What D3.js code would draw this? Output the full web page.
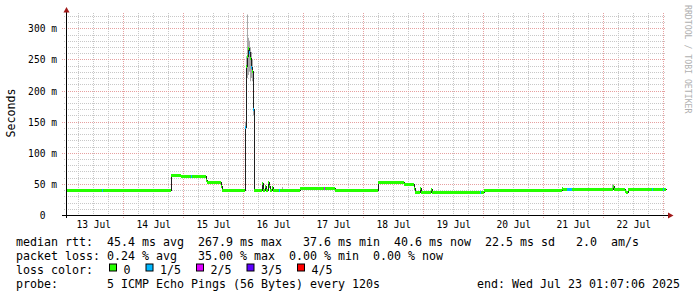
<!DOCTYPE html>
<html>
<head>
<meta charset="utf-8">
<script src="https://d3js.org/d3.v7.min.js"></script>
<style>
  body { margin: 0; background: #fff; }
  svg { display: block; }
  text { font-family: "DejaVu Sans Mono", monospace; fill: #000; }
</style>
</head>
<body>
<div id="pingGraph"></div>
<script>

    // median rtt (ms) as steps: each value holds from its time to the next time
    let times = [
        "07-13 01:07", "07-13 15:31", "07-13 15:55", "07-14 19:07", "07-14 23:07",
        "07-15 03:00", "07-15 03:24", "07-15 09:07", "07-15 09:31", "07-15 15:07",
        "07-15 15:31", "07-16 00:43", "07-16 01:07", "07-16 01:31", "07-16 01:55",
        "07-16 02:19", "07-16 02:43", "07-16 03:07", "07-16 03:31", "07-16 03:55",
        "07-16 04:19", "07-16 07:24", "07-16 07:55", "07-16 08:43", "07-16 09:07",
        "07-16 09:55", "07-16 10:19", "07-16 10:43", "07-16 11:31", "07-16 11:55",
        "07-16 14:19", "07-16 14:43", "07-16 22:43", "07-17 08:26", "07-17 08:50",
        "07-17 12:43", "07-18 06:00", "07-18 16:19", "07-18 20:26", "07-18 20:50",
        "07-18 22:43", "07-18 23:07", "07-19 03:00", "07-19 03:24", "07-19 22:43",
        "07-19 23:07", "07-20 00:20", "07-21 07:31", "07-21 07:55", "07-21 09:31",
        "07-21 11:31", "07-22 03:55", "07-22 04:19", "07-22 08:43", "07-22 09:07",
        "07-22 10:07", "07-22 19:31", "07-22 19:55", "07-22 23:55", "07-23 00:19"
    ];
    let median = [
        40, 40, 40, 63.5, 62.5,
        62.5, 62.5, 57, 53, 46,
        40, 142, 240, 255, 268,
        262, 252, 238, 232, 170,
        40, 52, 40, 47, 40,
        53, 46, 40, 45, 40,
        40, 40, 44, 44, 44,
        40, 52.5, 50, 44, 37.5,
        44, 37.5, 42, 37.5, 37.5,
        37.5, 40.5, 43, 41, 41,
        41, 47, 41, 38, 36.5,
        41, 41, 41, 41, 41
    ];
    // lost pings out of 5 for each step
    let loss = [
        0, 1, 0, 0, 0,
        1, 0, 0, 0, 0,
        0, 1, 0, 0, 0,
        1, 0, 1, 0, 1,
        0, 0, 0, 0, 0,
        0, 0, 0, 0, 0,
        1, 0, 0, 2, 0,
        0, 0, 0, 0, 0,
        0, 0, 0, 0, 1,
        0, 0, 0, 0, 1,
        0, 0, 0, 0, 0,
        0, 1, 0, 1, 0
    ];

    // smoke (spread of the single pings), only where it shows
    let smokeTimes = ["07-16 00:43", "07-16 01:07", "07-16 01:31", "07-16 01:55", "07-16 02:19",
                      "07-16 02:43", "07-16 03:07", "07-16 03:31", "07-16 03:55", "07-16 04:19",
                      "07-16 15:31", "07-16 15:55", "07-22 03:31", "07-22 03:55", "07-22 04:19"];
    let smokeLo = [110, 200, 220, 225, 230, 215, 220, 215, 160, 40, 40, 40, 41, 41, 41];
    let smokeHi = [150, 255, 322, 285, 280, 270, 262, 250, 180, 40, 45, 40, 49, 49, 41];

    let yTicks = [0, 50, 100, 150, 200, 250, 300];
    let yTickLabels = ["0  ", "50 m", "100 m", "150 m", "200 m", "250 m", "300 m"];
    let dayTicks = ["07-13 12:00", "07-14 12:00", "07-15 12:00", "07-16 12:00", "07-17 12:00",
                    "07-18 12:00", "07-19 12:00", "07-20 12:00", "07-21 12:00", "07-22 12:00"];
    let dayLabels = ["13 Jul", "14 Jul", "15 Jul", "16 Jul", "17 Jul",
                     "18 Jul", "19 Jul", "20 Jul", "21 Jul", "22 Jul"];

    let lossNames = ["0", "1/5", "2/5", "3/5", "4/5"];
    let lossColors = ["#26ff00", "#00b8ff", "#dd00ff", "#5e00ff", "#ff0000"];

    let legendLines = [
        "median rtt:  45.4 ms avg  267.9 ms max   37.6 ms min  40.6 ms now  22.5 ms sd   2.0  am/s",
        "packet loss: 0.24 % avg   35.00 % max  0.00 % min  0.00 % now",
        "loss color:",
        "probe:       5 ICMP Echo Pings (56 Bytes) every 120s"
    ];
    let endLabel = "end: Wed Jul 23 01:07:06 2025";

    let parseTime = s => d3.timeParse("%Y-%m-%d %H:%M")("2025-" + s);
    let start = new Date(2025, 6, 13, 1, 7, 6),
        end = new Date(2025, 6, 23, 1, 7, 6);

    let W = 697, H = 297;
    let plot = {left: 66, right: 666, top: 13, bottom: 215};

    let svg = d3.select("#pingGraph")
        .append("svg")
            .attr("width", W)
            .attr("height", H);

    svg.append("rect")
        .attr("width", W)
        .attr("height", H)
        .style("fill", "#fff");

    let xScale = d3.scaleTime().domain([start, end]).range([plot.left, plot.right]),
        yScale = d3.scaleLinear().domain([0, 324.6]).range([plot.bottom, plot.top]);

    // grid: minor every 6 hours / 10 ms, major at midnight / 50 ms
    let minorX = d3.timeHour.every(6).range(start, end).filter(d => d.getHours() != 0),
        majorX = d3.timeDay.range(start, end),
        minorY = d3.range(10, 325, 10).filter(v => v % 50 != 0),
        majorY = d3.range(50, 325, 50);

    let grid = svg.append("g").attr("shape-rendering", "crispEdges");

    grid.selectAll(".vminor").data(minorX).enter().append("line")
        .attr("x1", d => Math.round(xScale(d)) + 0.5).attr("x2", d => Math.round(xScale(d)) + 0.5)
        .attr("y1", plot.top).attr("y2", plot.bottom + 2)
        .style("stroke", "#c8c8c8").style("stroke-dasharray", "1,1");
    grid.selectAll(".hminor").data(minorY).enter().append("line")
        .attr("x1", plot.left - 2).attr("x2", plot.right)
        .attr("y1", d => Math.round(yScale(d)) + 0.5).attr("y2", d => Math.round(yScale(d)) + 0.5)
        .style("stroke", "#c8c8c8").style("stroke-dasharray", "1,1");
    grid.selectAll(".vmajor").data(majorX).enter().append("line")
        .attr("x1", d => Math.round(xScale(d)) + 0.5).attr("x2", d => Math.round(xScale(d)) + 0.5)
        .attr("y1", plot.top).attr("y2", plot.bottom + 3)
        .style("stroke", "#e6a0a0").style("stroke-dasharray", "1,1");
    grid.selectAll(".hmajor").data(majorY).enter().append("line")
        .attr("x1", plot.left - 4).attr("x2", plot.right)
        .attr("y1", d => Math.round(yScale(d)) + 0.5).attr("y2", d => Math.round(yScale(d)) + 0.5)
        .style("stroke", "#e6a0a0").style("stroke-dasharray", "1,1");

    // smoke
    let smoke = smokeTimes.map((t, i) => ({t: parseTime(t), lo: smokeLo[i], hi: smokeHi[i]}));
    svg.append("path")
        .datum(smoke)
        .attr("d", d3.area()
            .x(d => xScale(d.t))
            .y0(d => yScale(d.lo))
            .y1(d => yScale(d.hi))
            .curve(d3.curveStepAfter))
        .style("fill", "#a8a8a8");

    // median line
    let pts = times.map((t, i) => ({t: parseTime(t), v: median[i], loss: loss[i]}));
    let stepPts = pts.concat([{t: end, v: median[median.length - 1]}]);
    svg.append("path")
        .datum(stepPts)
        .attr("d", d3.line()
            .x(d => Math.round(xScale(d.t)) + 0.5)
            .y(d => Math.round(yScale(d.v)) + 0.5)
            .curve(d3.curveStepAfter))
        .attr("shape-rendering", "crispEdges")
        .style("fill", "none")
        .style("stroke", "#202020")
        .style("stroke-width", 1);

    // loss-coloured band around the median
    svg.selectAll(".band")
        .data(pts)
        .enter()
        .append("rect")
        .attr("x", d => Math.round(xScale(d.t)))
        .attr("width", (d, i) => Math.max(1, Math.round(xScale(i + 1 < pts.length ? pts[i + 1].t : end)) - Math.round(xScale(d.t))))
        .attr("y", d => Math.round(yScale(d.v)) - 1)
        .attr("height", 3)
        .style("fill", d => lossColors[d.loss]);

    // axes
    let yAxis = svg.append("g")
        .attr("transform", "translate(" + (plot.left - 6) + ",0)")
        .call(d3.axisLeft(yScale).tickValues(yTicks).tickSize(0)
            .tickFormat((d, i) => yTickLabels[i]));
    yAxis.select(".domain").remove();
    yAxis.selectAll("text")
        .attr("xml:space", "preserve")
        .style("font-family", "DejaVu Sans Mono")
        .style("font-size", "9.6px")
        .attr("dy", "0.36em");

    let xAxis = svg.append("g")
        .attr("transform", "translate(0," + (plot.bottom + 3) + ")")
        .call(d3.axisBottom(xScale).tickValues(dayTicks.map(parseTime)).tickSize(0)
            .tickFormat((d, i) => dayLabels[i]));
    xAxis.select(".domain").remove();
    xAxis.selectAll("text")
        .style("font-family", "DejaVu Sans Mono")
        .style("font-size", "9.6px");

    let axisCol = "#000", arrowCol = "#a01818";
    svg.append("line")
        .attr("x1", plot.left + 0.5).attr("x2", plot.left + 0.5)
        .attr("y1", plot.bottom + 3).attr("y2", plot.top - 2)
        .style("stroke", axisCol).attr("shape-rendering", "crispEdges");
    svg.append("line")
        .attr("x1", plot.left - 4).attr("x2", plot.right + 3)
        .attr("y1", plot.bottom + 0.5).attr("y2", plot.bottom + 0.5)
        .style("stroke", axisCol).attr("shape-rendering", "crispEdges");
    svg.append("path")
        .attr("d", "M" + (plot.left - 2.5) + "," + (plot.top - 0.5) + "L" + (plot.left + 3.5) + "," + (plot.top - 0.5) +
                   "L" + (plot.left + 0.5) + "," + (plot.top - 6) + "Z")
        .style("fill", arrowCol);
    svg.append("path")
        .attr("d", "M" + (plot.right + 2) + "," + (plot.bottom - 2.5) + "L" + (plot.right + 2) + "," + (plot.bottom + 3.5) +
                   "L" + (plot.right + 7.5) + "," + (plot.bottom + 0.5) + "Z")
        .style("fill", arrowCol);

    // y title
    svg.append("text")
        .attr("text-anchor", "middle")
        .attr("transform", "translate(15,113) rotate(-90)")
        .style("font-size", "11.6px")
        .text("Seconds");

    // watermark
    svg.append("text")
        .attr("transform", "translate(685,5) rotate(90)")
        .style("font-size", "8.2px")
        .style("fill", "#b0b0b0")
        .text("RRDTOOL / TOBI OETIKER");

    // legend
    let rowY = [245.5, 259.5, 273.5, 287.5];
    svg.selectAll(".legend")
        .data(legendLines)
        .enter()
        .append("text")
        .attr("xml:space", "preserve")
        .attr("x", 16)
        .attr("y", (d, i) => rowY[i])
        .style("font-size", "11.63px")
        .text(d => d);

    svg.append("text")
        .attr("text-anchor", "end")
        .attr("x", 680)
        .attr("y", rowY[3])
        .style("font-size", "11.63px")
        .text(endLabel);

    let lx = 109;
    lossNames.forEach((name, i) => {
        svg.append("rect")
            .attr("x", lx + 0.5).attr("y", rowY[2] - 9.5)
            .attr("width", 7).attr("height", 7)
            .style("fill", lossColors[i])
            .style("stroke", "#000")
            .style("stroke-width", 1);
        svg.append("text")
            .attr("x", lx + 14.5)
            .attr("y", rowY[2])
            .style("font-size", "11.63px")
            .text(name);
        lx += 14.5 + name.length * 7 + 15;
    });

</script>
</body>
</html>
